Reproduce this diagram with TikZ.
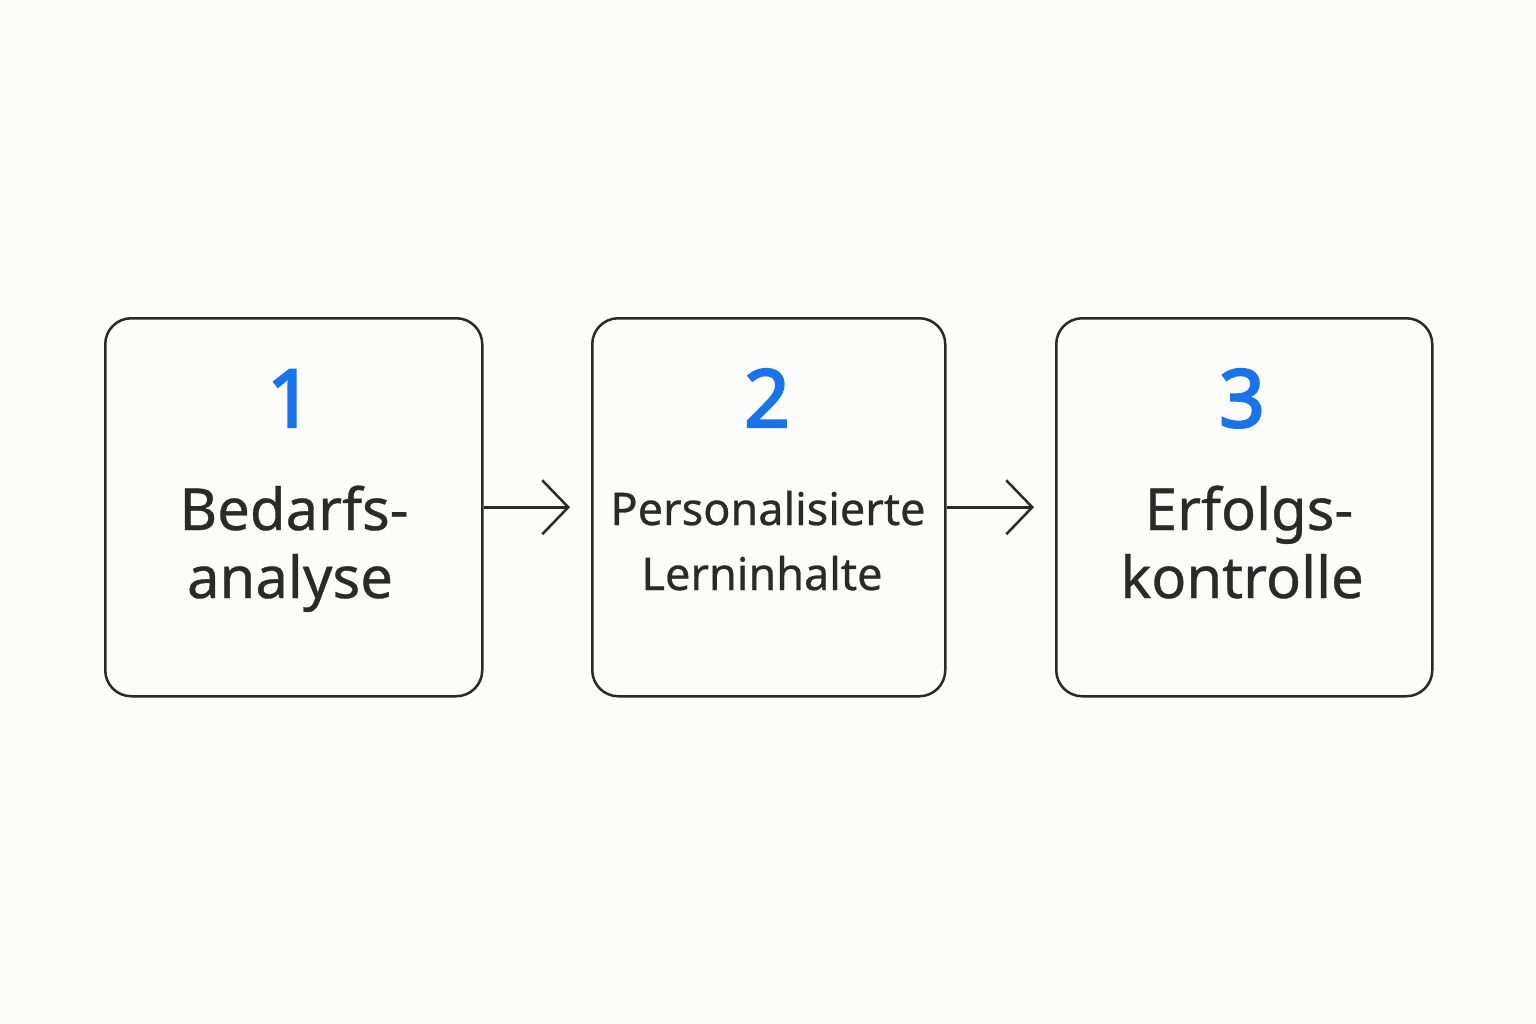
\documentclass[tikz,border=0pt]{standalone}
\usepackage{fontspec}
\setmainfont{Noto Sans}
\newfontfamily\numfont[AutoFakeBold=3]{Noto Sans}
\newfontfamily\lblfont[AutoFakeBold=0.6]{Noto Sans}
\usetikzlibrary{arrows.meta}
\definecolor{bg}{HTML}{FCFCFA}
\definecolor{ink}{HTML}{2A2A2A}
\definecolor{num}{HTML}{1A73E8}
\begin{document}
\begin{tikzpicture}[x=1pt,y=-1pt,
  stepbox/.style={draw=ink,line width=2.5pt,rounded corners=26pt,minimum width=377pt,minimum height=378pt,anchor=north west,inner sep=0},
  numtxt/.style={anchor=base,text=num,font=\numfont\bfseries\fontsize{80}{80}\selectfont},
  lbl/.style={anchor=base,text=ink,font=\lblfont\bfseries\fontsize{58}{58}\selectfont},
  lbls/.style={anchor=base,text=ink,font=\lblfont\bfseries\fontsize{45}{45}\selectfont},
  conn/.style={draw=ink,line width=2.5pt,-{Straight Barb[length=26pt,width=54pt,line width=2.5pt]},shorten >=21pt}]
\fill[bg] (0,0) rectangle (1536,1024);
\useasboundingbox (0,0) rectangle (1536,1024);
\node[stepbox] (b1) at (104,317) {};
\node[stepbox,minimum width=353pt] (b2) at (591,317) {};
\node[stepbox,minimum width=376pt] (b3) at (1055,317) {};
\node[numtxt] (n1) at (290,427) {1};
\node[numtxt] (n2) at (767,427) {2};
\node[numtxt] (n3) at (1242,427) {3};
\node[lbl] (t1a) at (294,530) {Bedarfs-};
\node[lbl] (t1b) at (290,598) {analyse};
\node[lbls] (t2a) at (768,525) {Personalisierte};
\node[lbls] (t2b) at (762,590) {Lerninhalte};
\node[lbl] (t3a) at (1249,530) {Erfolgs-};
\node[lbl] (t3b) at (1242,598) {kontrolle};
\draw[conn] (b1.east) -- (b2.west);
\draw[conn] (b2.east) -- (b3.west);
\end{tikzpicture}
\end{document}
